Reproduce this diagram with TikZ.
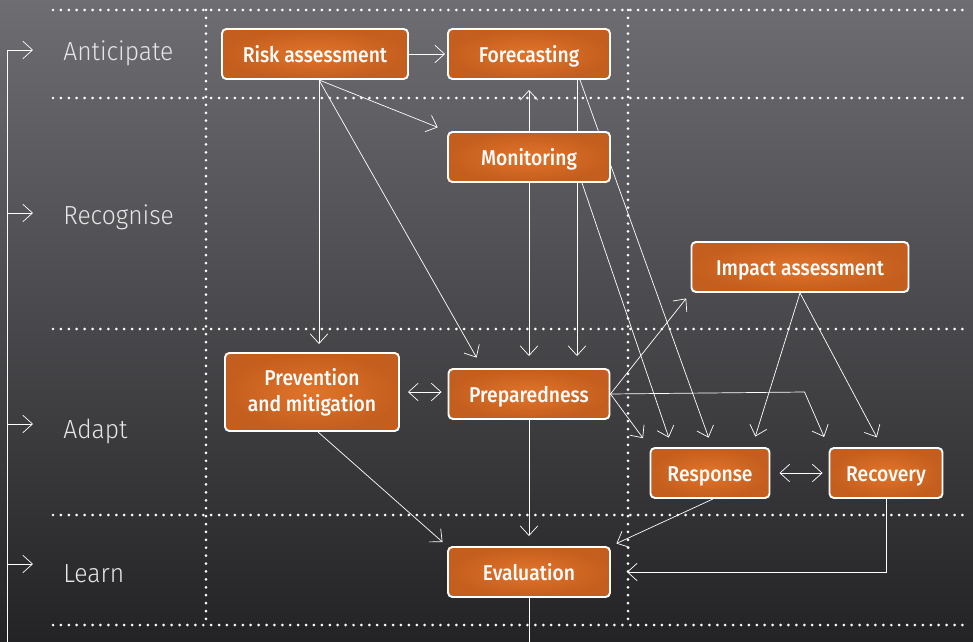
\documentclass[tikz,border=0pt]{standalone}
\usepackage{fontspec}
\newfontfamily\boxfont{Fira Sans Medium}[FakeStretch=0.9]
\newfontfamily\rowfont{Fira Sans Light}[FakeStretch=0.94]
\usetikzlibrary{arrows.meta,calc}

\definecolor{boxorange}{HTML}{E1742A}
\definecolor{boxedge}{HTML}{C45E1E}
\definecolor{rowgray}{HTML}{E6E6E6}
\definecolor{bgtop}{HTML}{6E6D72}
\definecolor{bgmid}{HTML}{3F3E43}
\definecolor{bgbot}{HTML}{232325}

\pgfdeclarelayer{backdrop}
\pgfdeclarelayer{wires}
\pgfsetlayers{backdrop,wires,main}

\begin{document}
\begin{tikzpicture}[
    % one unit is one pixel of the sketch, y runs downwards
    x=0.2mm, y=-0.2mm,
    % type of arrow head
    >={Straight Barb[length=5.5pt,width=10pt]},
    % line thickness
    line width=1.35pt,
    box/.style = {draw=white, line width=1.1pt, inner color=boxorange, outer color=boxedge,
                  rounded corners=2.5pt, text=white,
                  font=\boxfont\fontsize{12.2}{14.7}\selectfont,
                  minimum height=1cm, align=center, inner sep=2pt},
    onerow/.style = {box, text height=10pt, text depth=0pt},
    line/.style = {->, draw=white},
    both/.style = {<->, draw=white},
    grid/.style = {draw=white, line width=1.7pt, line cap=round, dash pattern=on 0pt off 4.5pt},
    row/.style = {anchor=base west, text=rowgray, inner sep=0pt,
                  font=\rowfont\fontsize{14.9}{16}\selectfont}
    ]

    \useasboundingbox (0,0) rectangle (973,642);
    \begin{pgfonlayer}{backdrop}
    \shade[top color=bgtop, middle color=bgmid, bottom color=bgbot] (0,0) rectangle (973,642);
    \end{pgfonlayer}

    % dotted grid
    \foreach \y in {10,98,329,515,625}
        \draw[grid] (53,\y) -- (965,\y);
    \foreach \x in {206,628}
        \draw[grid] (\x,10) -- (\x,625);

    \coordinate (R)  at (315,54);
    \coordinate (F)  at (529,54);
    \coordinate (M)  at (529,157);
    \coordinate (I)  at (800,267);
    \coordinate (P)  at (312,392);
    \coordinate (Q)  at (529,394);
    \coordinate (S)  at (710,473);
    \coordinate (V)  at (886,473);
    \coordinate (E)  at (529,572);

    % nodes
    \node (risk)   [onerow, minimum width=3.72cm] at (R) {Risk assessment};
    \node (fore)   [onerow, minimum width=3.24cm] at (F) {Forecasting};
    \node (moni)   [onerow, minimum width=3.24cm] at (M) {Monitoring};
    \node (impact) [onerow, minimum width=4.34cm] at (I) {Impact assessment};
    \node (prev)   [box, minimum width=3.48cm, minimum height=1.56cm] at (P) {Prevention\\and mitigation};
    \node (prep)   [onerow, minimum width=3.22cm] at (Q) {Preparedness};
    \node (resp)   [onerow, minimum width=2.38cm] at (S) {Response};
    \node (recov)  [onerow, minimum width=2.26cm] at (V) {Recovery};
    \node (eval)   [onerow, minimum width=3.24cm] at (E) {Evaluation};

    % row labels
    \node (antic) [row] at (63,61)  {Anticipate};
    \node (recog) [row] at (63,225) {Recognise};
    \node (adapt) [row] at (63,438) {Adapt};
    \node (learn) [row] at (63,582) {Learn};

    % bracket on the left
    \coordinate (B0) at (7,642);
    \coordinate (B1) at (7,50);   \coordinate (T1) at (33,50);
    \coordinate (B2) at (7,213);  \coordinate (T2) at (33,213);
    \coordinate (B3) at (7,424);  \coordinate (T3) at (33,424);
    \coordinate (B4) at (7,564);  \coordinate (T4) at (33,564);
    \path[line] (B0) -- (B1) -- (T1);
    \path[line] (B2) -- (T2);
    \path[line] (B3) -- (T3);
    \path[line] (B4) -- (T4);

    % edges
    \begin{pgfonlayer}{wires}
    \coordinate (RS) at ($(risk.south)+(4,0)$);
    \coordinate (FS) at ($(fore.south)+(48,0)$);

    \path[line, shorten >=0.4mm] (risk) -- (fore);
    \path[line, shorten >=1.6mm] (RS) -- (RS |- prev.north);
    \path[line, shorten >=2mm]   (RS) -- (moni.north west);
    \path[line, shorten >=2.4mm] (RS) -- ($(prep.north west)+(35,0)$);

    \path[line, shorten >=2mm]   (moni) -- (fore);
    \path[line, shorten >=2.4mm] (moni) -- (prep);
    \path[line, shorten >=2.4mm] (FS) -- (FS |- prep.north);
    \path[line, shorten >=2mm]   ($(fore.south)+(51,0)$) -- ($(resp.north)+(2,0)$);
    \path[line, shorten >=2mm]   ($(moni.south)+(53,0)$) -- ($(resp.north)+(-38,0)$);

    \path[line, shorten >=1.4mm] (prep.east) -- (impact.south west);
    \path[line, shorten >=2.2mm] (prep.east) -- ($(recov.north west |- prep.east)+(-24,-2)$) -- (recov.north west);
    \path[line, shorten >=2.2mm] (prep.east) -- (resp.north west);
    \path[line, shorten >=2.2mm] (impact.south) -- ($(resp.north)+(42,0)$);
    \path[line, shorten >=2.2mm] (impact.south) -- ($(recov.north)+(-4,0)$);

    \path[both, shorten <=1.6mm, shorten >=1.2mm] (prev.east) -- (prev.east -| prep.west);
    \path[both, shorten <=1.8mm, shorten >=1.2mm] (resp) -- (recov);

    \path[line, shorten >=1.2mm] ($(prev.south)+(6,0)$) -- (eval.north west);
    \path[line, shorten >=2mm]   (prep) -- (eval);
    \path[line, shorten >=1.2mm] ($(resp.south)+(3,0)$) -- (eval.north east);
    \path[line, shorten >=3.2mm] (recov.south) |- (eval.east);

    \coordinate (EB) at (529,642);
    \path[draw=white] (eval.south) -- (EB);
    \end{pgfonlayer}
\end{tikzpicture}
\end{document}
